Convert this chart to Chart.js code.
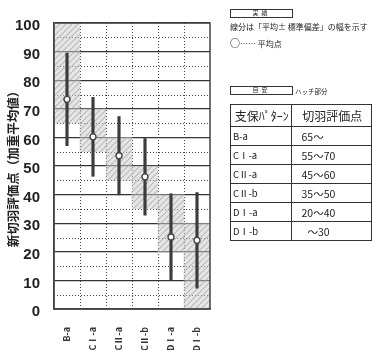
<!DOCTYPE html>
<html>
<head>
<meta charset="utf-8">
<script src="https://cdn.jsdelivr.net/npm/chart.js@4.4.1/dist/chart.umd.min.js"></script>
<style>
  body { margin: 0; background: #fff; }
  #wrap { position: relative; width: 372px; height: 350px; overflow: hidden; font-family: "Noto Sans CJK JP", sans-serif; color: #222; }
  #chart { position: absolute; left: 0; top: 0; }
  .box { position: absolute; border: 1px solid #333; font-size: 6px; line-height: 6px; text-align: center; letter-spacing: 3px; }
  .note { position: absolute; white-space: nowrap; }
  #tbl { position: absolute; left: 230px; top: 104px; border-collapse: collapse; }
  #tbl td, #tbl th { border: 1px solid #333; padding: 0 0 0 2px; white-space: nowrap; font-weight: normal; }
  #tbl th { height: 21px; font-size: 12px; text-align: center; }
  #tbl td { height: 18px; font-size: 10.5px; }
</style>
</head>
<body>
<div id="wrap">
  <canvas id="chart" width="372" height="350"></canvas>
  <div class="box" style="left:230px;top:9px;width:61px;height:7px;">実績</div>
  <div class="note" style="left:230px;top:21px;font-size:8px;">線分は「平均± 標準偏差」の幅を示す</div>
  <div class="note" style="left:230px;top:35px;font-size:8px;"><span style="font-size:10px">○</span>…… 平均点</div>
  <div class="box" style="left:230px;top:86px;width:61px;height:7px;">目安</div>
  <div class="note" style="left:295px;top:86px;font-size:6.5px;">ハッチ部分</div>
  <table id="tbl"></table>
</div>
<script>
// support patterns
const categories = ['B-a', 'CⅠ-a', 'CⅡ-a', 'CⅡ-b', 'DⅠ-a', 'DⅠ-b'];
// weighted mean of the new face evaluation point and its standard deviation
const meanValues = [73.3, 60.2, 53.6, 46.2, 25.2, 24.0];
const sdValues = [16.2, 13.8, 13.7, 13.4, 15.1, 16.7];
// guide ranges (hatched)
const guideLow = [65, 55, 45, 35, 20, 0];
const guideHigh = [100, 70, 60, 50, 40, 30];
const yTicks = [0, 10, 20, 30, 40, 50, 60, 70, 80, 90, 100];

// table on the right, built from the guide ranges
const tbl = document.getElementById('tbl');
let html = '<tr><th style="width:60px">支保ﾊﾟﾀｰﾝ</th><th style="width:90px">切羽評価点</th></tr>';
categories.forEach((c, i) => {
    const lo = guideLow[i] > 0 ? guideLow[i] : '';
    const hi = guideHigh[i] < 100 ? guideHigh[i] : '';
    const pad = lo === '' ? 'padding-left:16px' : 'padding-left:10px';
    html += `<tr><td style="font-size:9.5px">${c}</td><td style="${pad}">${lo}～${hi}</td></tr>`;
});
tbl.innerHTML = html;

function makeHatch() {
    const c = document.createElement('canvas');
    c.width = 6; c.height = 6;
    const g = c.getContext('2d');
    g.fillStyle = 'rgba(205,205,205,0.5)';
    g.fillRect(0, 0, 6, 6);
    g.strokeStyle = 'rgba(160,160,160,0.6)';
    g.lineWidth = 1.2;
    g.beginPath();
    g.moveTo(0, 6); g.lineTo(6, 0);
    g.moveTo(-3, 3); g.lineTo(3, -3);
    g.moveTo(3, 9); g.lineTo(9, 3);
    g.stroke();
    return g.createPattern(c, 'repeat');
}

// dotted minor grid + frame around the plot
const gridPlugin = {
    id: 'minorGrid',
    beforeDatasetsDraw(chart) {
        const a = chart.chartArea, ctx = chart.ctx;
        const x = chart.scales.x, y = chart.scales.y;
        ctx.save();
        ctx.strokeStyle = '#444';
        ctx.lineWidth = 1;
        ctx.setLineDash([1, 2]);
        ctx.beginPath();
        for (let v = 5; v < 100; v += 10) {
            const py = Math.round(y.getPixelForValue(v)) + 0.5;
            ctx.moveTo(a.left, py); ctx.lineTo(a.right, py);
        }
        for (let i = 1; i < categories.length; i++) {
            const px = Math.round((x.getPixelForValue(i - 1) + x.getPixelForValue(i)) / 2) + 0.5;
            ctx.moveTo(px, a.top); ctx.lineTo(px, a.bottom);
        }
        ctx.stroke();
        ctx.restore();
    },
    afterDraw(chart) {
        const a = chart.chartArea, ctx = chart.ctx;
        ctx.save();
        ctx.strokeStyle = '#444';
        ctx.lineWidth = 1.5;
        ctx.strokeRect(a.left, a.top, a.right - a.left, a.bottom - a.top);
        ctx.restore();
    }
};

const ctx = document.getElementById('chart').getContext('2d');
new Chart(ctx, {
    type: 'bar',
    data: {
        labels: categories,
        datasets: [
            {
                type: 'line',
                data: meanValues,
                showLine: false,
                pointStyle: 'circle',
                pointRadius: 3,
                pointBackgroundColor: '#fff',
                pointBorderColor: '#444',
                pointBorderWidth: 1.4,
                order: 1
            },
            {
                data: meanValues.map((m, i) => [m - sdValues[i], m + sdValues[i]]),
                backgroundColor: '#3c3c3c',
                barThickness: 2.5,
                borderWidth: 0,
                grouped: false,
                order: 2
            },
            {
                data: guideLow.map((lo, i) => [lo, guideHigh[i]]),
                backgroundColor: makeHatch(),
                barPercentage: 1,
                categoryPercentage: 1,
                borderWidth: 0,
                grouped: false,
                order: 3
            }
        ]
    },
    options: {
        responsive: false,
        animation: false,
        layout: { padding: { left: 0, top: 11, right: 162, bottom: 0 } },
        plugins: { legend: { display: false }, tooltip: { enabled: false } },
        scales: {
            x: {
                offset: true,
                grid: { display: false },
                border: { color: '#444', width: 1.5 },
                ticks: { minRotation: 90, maxRotation: 90, padding: 10, color: '#333',
                         font: { family: '"Noto Sans CJK JP", sans-serif', size: 9, weight: 'bold' } },
                afterFit(s) { s.height = 41; }
            },
            y: {
                min: 0, max: 100,
                afterBuildTicks(s) { s.ticks = yTicks.map(v => ({ value: v })); },
                grid: { drawTicks: false, color: '#333', lineWidth: 1.3 },
                border: { color: '#444', width: 1.5 },
                ticks: { padding: 14, labelOffset: 3, color: '#222',
                         font: { family: '"Liberation Sans", Arial, sans-serif', size: 15, weight: 'bold' } },
                title: { display: true, text: '新切羽評価点（加重平均値）', color: '#222', padding: { top: 6, bottom: 4 },
                         font: { family: '"Noto Sans CJK JP", sans-serif', size: 12.5, weight: 'bold' } },
                afterFit(s) { s.width = 54; }
            }
        }
    },
    plugins: [gridPlugin]
});
</script>
</body>
</html>
